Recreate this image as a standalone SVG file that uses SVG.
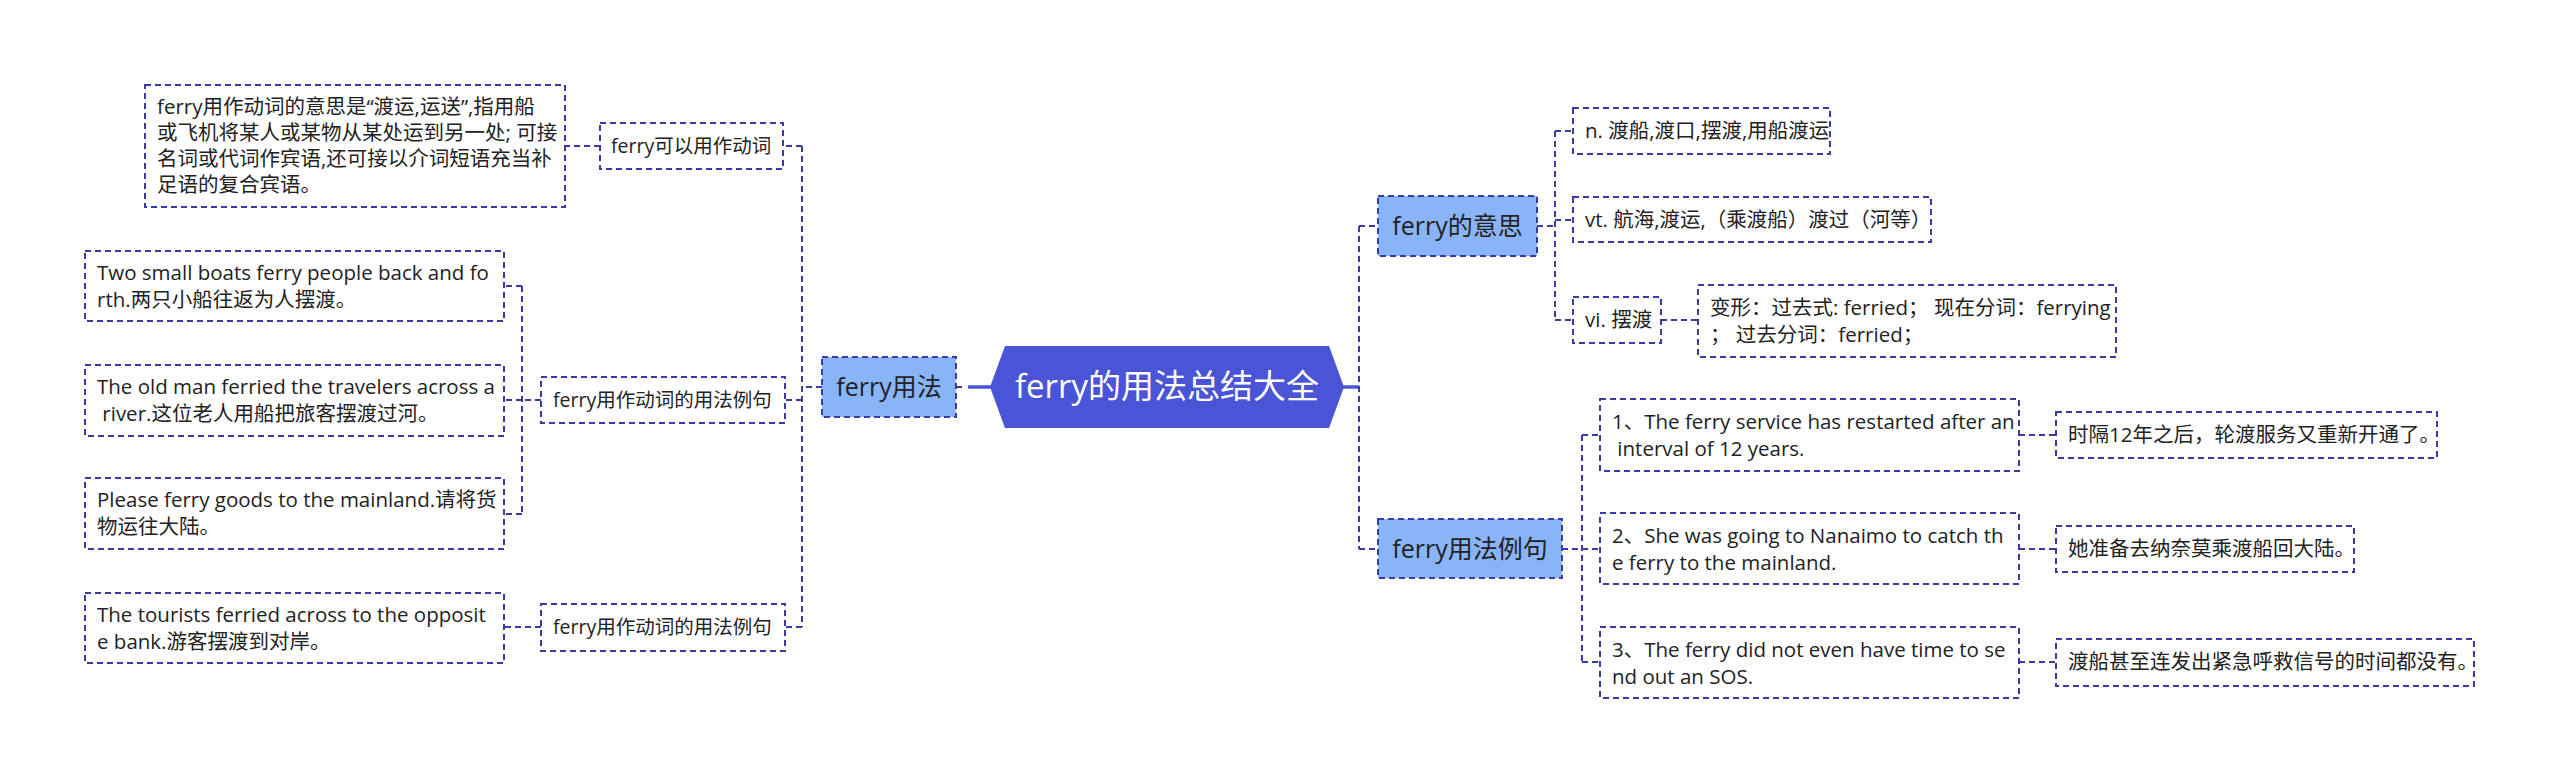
<svg xmlns="http://www.w3.org/2000/svg" width="2560" height="784" viewBox="0 0 2560 784">
<style>
text{font-family:"Open Sans","Noto Sans CJK SC",sans-serif;fill:#222;white-space:pre}
.leaf{fill:#fff;stroke:#3b3ba6;stroke-width:2;stroke-dasharray:6 4}
.l1{fill:#8ab4f8;stroke:#3b3ba6;stroke-width:2;stroke-dasharray:6 4}
.t{font-size:20.5px}
.t2{font-size:19.5px}
.t1{font-size:25px;text-anchor:middle}
.root{font-size:33px;text-anchor:middle;fill:#fff}
.con{fill:none;stroke:#3b3ba6;stroke-width:2;stroke-dasharray:6 4}
.rc{fill:none;stroke:#4a54d6;stroke-width:3.5}
</style>
<rect width="2560" height="784" fill="#fff"/>
<g id="connectors">
<path class="rc" d="M968,387H992M1342,387H1359"/>
<path class="con" d="M956,387H966"/>
<path class="con" d="M822,387H802M802,146V627M802,146H783M802,400H785M802,627H785M600,146H565"/>
<path class="con" d="M541,400H522M522,286V514M522,286H504M522,400H504M522,514H504M541,627H504"/>
<path class="con" d="M1359,226V549M1359,226H1378M1359,549H1378"/>
<path class="con" d="M1537,226H1555M1555,131V320M1555,131H1573M1555,220H1573M1555,320H1573M1661,320H1698"/>
<path class="con" d="M1562,549H1582M1582,435V662M1582,435H1600M1582,549H1600M1582,662H1600M2019,435H2056M2019,549H2056M2019,662H2056"/>
</g>
<g id="root">
<polygon points="990,387 1005,346 1329,346 1344,387 1329,428 1005,428" fill="#4a54d6"/>
<text class="root" x="1167" y="398">ferry的用法总结大全</text>
</g>
<g id="n-usage">
<rect class="l1" x="822" y="357" width="134" height="60"/>
<text class="t1" x="889" y="396">ferry用法</text>
</g>
<g id="n-verb">
<rect class="leaf" x="600" y="123" width="183" height="46"/>
<text class="t2" x="611" y="153">ferry可以用作动词</text>
</g>
<g id="n-verb-desc">
<rect class="leaf" x="145" y="85" width="420" height="122"/>
<text class="t" x="157" y="114">ferry用作动词的意思是“渡运,运送”,指用船</text>
<text class="t" x="157" y="140">或飞机将某人或某物从某处运到另一处; 可接</text>
<text class="t" x="157" y="166">名词或代词作宾语,还可接以介词短语充当补</text>
<text class="t" x="157" y="192">足语的复合宾语。</text>
</g>
<g id="n-ex1">
<rect class="leaf" x="541" y="377" width="244" height="46"/>
<text class="t2" x="553" y="407">ferry用作动词的用法例句</text>
</g>
<g id="n-ex1-a">
<rect class="leaf" x="85" y="251" width="419" height="70"/>
<text class="t" x="97" y="280">Two small boats ferry people back and fo</text>
<text class="t" x="97" y="307">rth.两只小船往返为人摆渡。</text>
</g>
<g id="n-ex1-b">
<rect class="leaf" x="85" y="365" width="419" height="71"/>
<text class="t" x="97" y="394">The old man ferried the travelers across a</text>
<text class="t" x="97" y="421" xml:space="preserve"> river.这位老人用船把旅客摆渡过河。</text>
</g>
<g id="n-ex1-c">
<rect class="leaf" x="85" y="478" width="419" height="71"/>
<text class="t" x="97" y="507">Please ferry goods to the mainland.请将货</text>
<text class="t" x="97" y="534">物运往大陆。</text>
</g>
<g id="n-ex2">
<rect class="leaf" x="541" y="604" width="244" height="47"/>
<text class="t2" x="553" y="634">ferry用作动词的用法例句</text>
</g>
<g id="n-ex2-a">
<rect class="leaf" x="85" y="593" width="419" height="70"/>
<text class="t" x="97" y="622">The tourists ferried across to the opposit</text>
<text class="t" x="97" y="649">e bank.游客摆渡到对岸。</text>
</g>
<g id="n-meaning">
<rect class="l1" x="1378" y="196" width="159" height="60"/>
<text class="t1" x="1457.5" y="235">ferry的意思</text>
</g>
<g id="n-noun">
<rect class="leaf" x="1573" y="108" width="257" height="46"/>
<text class="t" x="1585" y="138">n. 渡船,渡口,摆渡,用船渡运</text>
</g>
<g id="n-vt">
<rect class="leaf" x="1573" y="197" width="358" height="45"/>
<text class="t" x="1585" y="227">vt. 航海,渡运,（乘渡船）渡过（河等）</text>
</g>
<g id="n-vi">
<rect class="leaf" x="1573" y="297" width="88" height="46"/>
<text class="t" x="1585" y="327">vi. 摆渡</text>
</g>
<g id="n-forms">
<rect class="leaf" x="1698" y="285" width="418" height="72"/>
<text class="t" x="1710" y="315">变形：过去式: ferried； 现在分词：ferrying</text>
<text class="t" x="1710" y="342">； 过去分词：ferried；</text>
</g>
<g id="n-examples">
<rect class="l1" x="1378" y="519" width="184" height="59"/>
<text class="t1" x="1470" y="558">ferry用法例句</text>
</g>
<g id="n-s1">
<rect class="leaf" x="1600" y="399" width="419" height="72"/>
<text class="t" x="1612" y="429">1、The ferry service has restarted after an</text>
<text class="t" x="1612" y="456" xml:space="preserve"> interval of 12 years.</text>
</g>
<g id="n-s1-cn">
<rect class="leaf" x="2056" y="412" width="381" height="46"/>
<text class="t" x="2068" y="442">时隔12年之后，轮渡服务又重新开通了。</text>
</g>
<g id="n-s2">
<rect class="leaf" x="1600" y="513" width="419" height="71"/>
<text class="t" x="1612" y="543">2、She was going to Nanaimo to catch th</text>
<text class="t" x="1612" y="570">e ferry to the mainland.</text>
</g>
<g id="n-s2-cn">
<rect class="leaf" x="2056" y="526" width="298" height="46"/>
<text class="t" x="2068" y="556">她准备去纳奈莫乘渡船回大陆。</text>
</g>
<g id="n-s3">
<rect class="leaf" x="1600" y="627" width="419" height="71"/>
<text class="t" x="1612" y="657">3、The ferry did not even have time to se</text>
<text class="t" x="1612" y="684">nd out an SOS.</text>
</g>
<g id="n-s3-cn">
<rect class="leaf" x="2056" y="639" width="418" height="47"/>
<text class="t" x="2068" y="669">渡船甚至连发出紧急呼救信号的时间都没有。</text>
</g>
</svg>
